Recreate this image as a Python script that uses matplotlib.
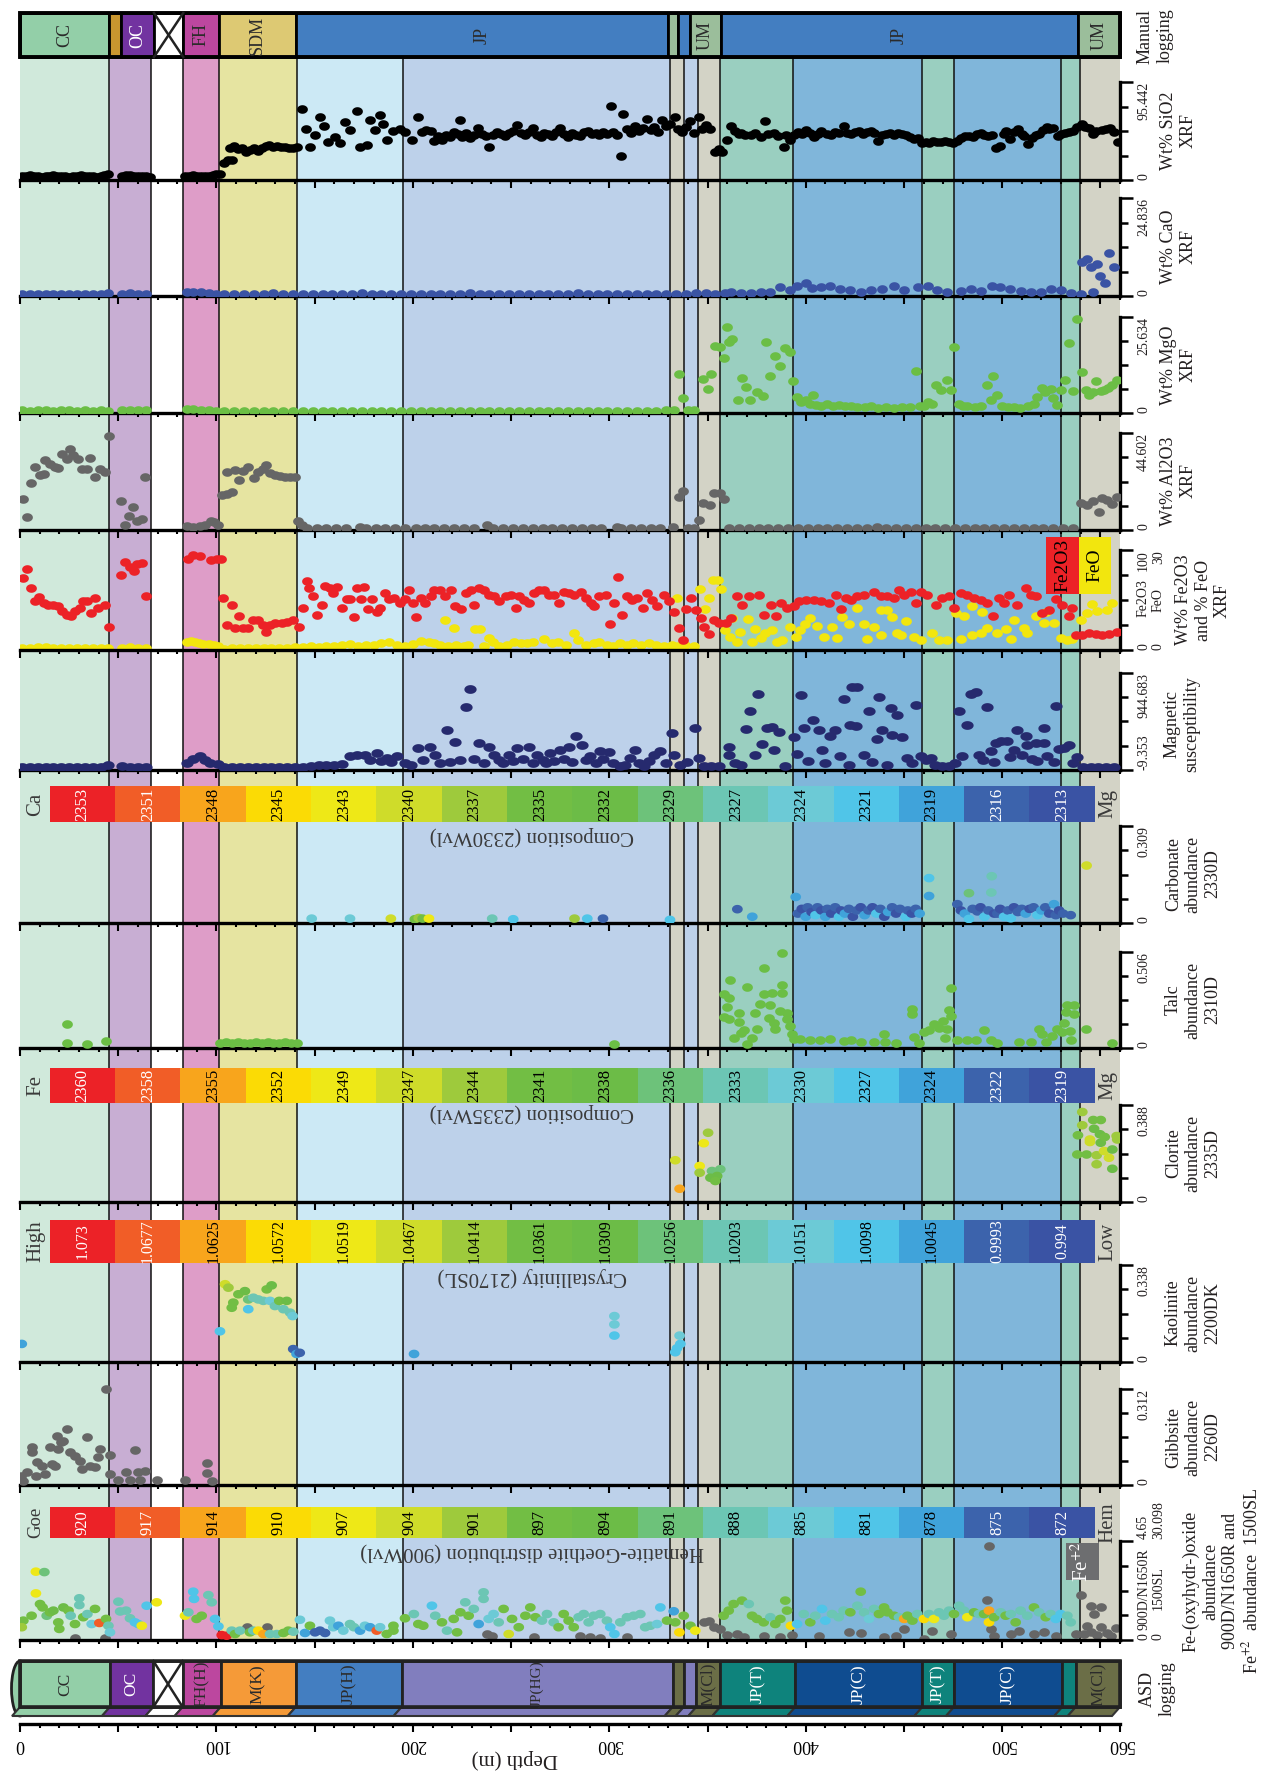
import numpy as np
import matplotlib
matplotlib.use("Agg")
import matplotlib.pyplot as plt
from matplotlib.patches import Rectangle, Polygon, Ellipse
from matplotlib.path import Path
from matplotlib.colors import ListedColormap, BoundaryNorm
from matplotlib.ticker import MultipleLocator, FixedLocator

plt.rcParams['font.family'] = ['Liberation Serif', 'DejaVu Serif']
plt.rcParams['mathtext.fontset'] = 'stix'

# ---------------------------------------------------------------- data
DMAX = 560

# lithological zones (depth top, depth base, fill)
ZONE_TOP = [0, 45.5, 66.5, 82.8, 101.1, 140.9, 194.8, 331.1, 338.2, 345, 356.5, 393.5, 459.4, 475.5, 529.8, 539.5]
ZONE_BASE = [45.5, 66.5, 82.8, 101.1, 140.9, 194.8, 331.1, 338.2, 345, 356.5, 393.5, 459.4, 475.5, 529.8, 539.5, 560]
ZONE_COLOR = ['#D0E9DB', '#C8AED3', '#FFFFFF', '#DE9DC8', '#E6E4A1', '#CCE9F5', '#BDD1EA', '#D3D3C6',
              '#BDD1EA', '#D3D3C6', '#9ACFC0', '#80B6DA', '#9ACFC0', '#80B6DA', '#9ACFC0', '#D3D3C6']

# manual logging column
MAN_TOP = [0, 45.5, 51.3, 68.2, 83.1, 101.3, 140.5, 329.7, 334.8, 340.9, 356.9, 538.6]
MAN_BASE = [45.5, 51.3, 68.2, 83.1, 101.3, 140.5, 329.7, 334.8, 340.9, 356.9, 538.6, 560]
MAN_UNIT = ['CC', 'Ochre', 'OC', 'None', 'FH', 'SDM', 'JP', 'UM', 'JP', 'UM', 'JP', 'UM']
MAN_LABEL = ['CC', '', 'OC', '', 'FH', 'SDM', 'JP', '', '', 'UM', 'JP', 'UM']

# ASD logging column
ASD_TOP = [0, 45.8, 67.9, 82.8, 102.2, 140.4, 194.3, 332.3, 337.9, 344.3, 356.5, 394.7, 459.4, 475.5, 530.6, 537.5]
ASD_BASE = [45.8, 67.9, 82.8, 102.2, 140.4, 194.3, 332.3, 337.9, 344.3, 356.5, 394.7, 459.4, 475.5, 530.6, 537.5, 560]
ASD_UNIT = ['CC', 'OC', 'None', 'FH(H)', 'M(K)', 'JP(H)', 'JP(HG)', 'M(Cl)', 'JP(HG)', 'M(Cl)',
            'JP(T)', 'JP(C)', 'JP(T)', 'JP(C)', 'JP(T)', 'M(Cl)']

UNIT_COLORS = {'CC': '#93CFA8', 'Ochre': '#C9962F', 'OC': '#7233A0', 'None': '#FFFFFF', 'FH': '#BC479F',
               'SDM': '#DDC973', 'JP': '#437EC1', 'UM': '#9BBE9B', 'FH(H)': '#BC479F', 'M(K)': '#F59A38',
               'JP(H)': '#437EC1', 'JP(HG)': '#817EBE', 'M(Cl)': '#6B6E47', 'JP(T)': '#0E837C',
               'JP(C)': '#0F4C90'}
LIGHT_TEXT_UNITS = {'OC', 'JP(T)', 'JP(C)'}

# spectral colour scales
SCALE_COLORS = ['#EC2227', '#F15D27', '#F8A51C', '#FBDB05', '#EEE817', '#CFDC2A', '#9ECA3C', '#72BE44',
                '#6CBC47', '#6DC27A', '#6CC6B4', '#6CCAD6', '#50C5E8', '#40A3DA', '#3C63AC', '#3A53A4']
CA_MG = ['2353', '2351', '2348', '2345', '2343', '2340', '2337', '2335', '2332', '2329', '2327', '2324',
         '2321', '2319', '2316', '2313']
FE_MG = ['2360', '2358', '2355', '2352', '2349', '2347', '2344', '2341', '2338', '2336', '2333', '2330',
         '2327', '2324', '2322', '2319']
CRYST = ['1.073', '1.0677', '1.0625', '1.0572', '1.0519', '1.0467', '1.0414', '1.0361', '1.0309', '1.0256',
         '1.0203', '1.0151', '1.0098', '1.0045', '0.9993', '0.994']
GOE_HEM = ['920', '917', '914', '910', '907', '904', '901', '897', '894', '891', '888', '885', '881', '878',
           '875', '872']

# XRF SiO2 (depth m, wt%)
SIO2 = [(1,4),(3,4),(5,5),(7,4),(9,4),(11,3),(13,4),(15,4),(17,5),(19,4),(21,4),(23,4),(25,3),(27,4),(29,4),
        (31,5),(33,4),(35,4),(37,4),(39,3),(41,4),(43,5),(45,6),
        (52,4),(54,5),(56,5),(58,4),(60,4),(62,4),(64,4),(66,3),
        (84,4),(86,4),(88,5),(90,4),(92,4),(94,4),(96,4),(98,5),(100,6),
        (102,6),(104,17),(106,19),(108,19),(107,31),(109,33),(111,30),(113,31),(115,27),(117,29),(119,31),
        (121,28),(123,31),(125,33),(127,34),(129,32),(131,33),(133,32),(135,32),(137,31),(139,31),(141,32),
        (143.4,69),(145.6,50),(147.6,32),(150,44),(152.7,61),(154.8,53),(157,37),(160.4,42),(163,36),
        (165.5,56),(168,49),(171.4,67),(173,32),(176.5,34),(178.2,58),(180.7,49),(183.3,63),(185,55),
        (186.7,39),(190,48),(193.5,50),(196,47),(199.4,39),(202.8,61),(204.5,47),(206.5,49),
        (209,48),(211,38),(213,43),(215,39),(217,44),(219,42),(221,47),(223,45),(224,58),(225,42),(227,46),
        (229,41),(231,44),(233,51),(235,45),(237,43),(239,32),(241,44),(243,47),(245,45),(247,43),(249,46),
        (251,48),(253,54),(255,46),(257,44),(259,47),(261,51),(263,44),(265,42),(267,46),(269,45),(271,43),
        (273,47),(275,51),(277,45),(279,42),(281,46),(283,44),(285,43),(287,47),(289,48),(291,45),(293,46),
        (295,44),(297,47),(299,45),(301,72),(302,47),(304,44),(306,23),(307,64),(309,50),(311,46),(313,53),
        (315,48),(317,51),(319,59),(321,49),(323,52),(325,47),(327,58),(329,53),
        (331,55),(333.6,61),(335,50),(337,47),(339,52),(341,57),(343,46),(345.5,61),(347,50),(349,54),
        (351.5,50),(354,27),(356,30),(357.6,27),
        (360,39),(362,53),(364,48),(366,45),(367,46),(369,44),(372,44),(374,46),(377,42),(379.5,57),(381,45),
        (384,46),(386,43),(388.8,32),(390,44),(392,39),
        (394,44),(396,47),(398,45),(400,49),(402,46),(404,42),(406,45),(408,48),(411,45),(413,44),(415,47),
        (417,46),(419.5,53),(421,46),(423,45),(425,47),(427,48),(429,45),(431,47),(433,48),(435,46),(437,38),
        (439,44),(441,45),(443,46),(445,44),(447,46),(449,45),(451,44),(453,42),(455,40),(457,41),(459,36),
        (461,37),(463,36),(465,38),(467,37),(469,37),(471,38),(473,37),(475,36),
        (477,38),(479,41),(481,43),(483,43),(485,42),(487,45),(489,46),(491,44),(493,43),(495,44),(497,31),
        (499,33),(501,45),(502,48),(504,40),(506,47),(508,50),(510,45),(511,43),(513,35),(515,41),(517,44),
        (519,45),(521,49),(522.6,52),(524,50),(526,51),(528.6,43),(530,45),
        (532,46),(534,47),(536,48),(538,52),(540.5,55),(542,52),(544,51),(546.5,45),(548,48),(551,49),
        (553,50),(555,51),(557,47),(559,37)]

# XRF CaO (depth m, wt%)
CAO = [(1,0.6),(5,0.5),(9,0.6),(13,0.5),(17,0.6),(21,0.5),(25,0.6),(29,0.5),(33,0.6),(37,0.5),(41,0.6),
       (45,0.8),(52,0.6),(56,0.7),(60,0.6),(64,0.6),(85,1.0),(88,1.1),(92,0.9),(96,0.7),(100,0.6),
       (104,0.5),(109,0.6),(114,0.4),(119,0.6),(124,0.5),(129,0.7),(134,0.5),(139,0.6),(144,0.5),(149,0.4),
       (154,0.6),(159,0.5),(164,0.6),(169,0.5),(174,0.7),(179,0.5),(184,0.6),(189,0.5),(194,0.4),(199,0.6),
       (204,0.5),(209,0.6),(214,0.5),(219,0.6),(224,0.5),(229,0.7),(234,0.5),(239,0.6),(244,0.5),(249,0.4),
       (254,0.6),(259,0.5),(264,0.6),(269,0.5),(274,0.6),(279,0.5),(284,0.7),(289,0.5),(294,0.6),(299,0.5),
       (304,0.4),(309,0.6),(314,0.5),(319,0.6),(324,0.5),(329,0.6),(334,0.5),(339,0.6),(344,0.7),(349,0.8),
       (354,0.6),(359,0.7),
       (362,0.9),(367,0.7),(372,0.8),(377,0.9),(382,1.1),(387,2.2),(392,1.6),(395.6,2.6),(399.9,3.4),
       (403,2.0),(407.7,2.4),(412.6,2.6),(417.6,1.7),(422.7,1.6),(428,1.1),(433,1.5),(439,1.9),(445,2.5),
       (450,1.5),(457,2.3),(462,2.5),(467,1.5),(472,1.1),(479,1.3),(484,1.9),(489,1.3),(495,2.5),(499,2.2),
       (504,1.7),(509.5,1.3),(514.5,1.1),(519.6,1.1),(524.7,1.9),(529.8,1.5),(535,0.8),(540,0.6),
       (540.6,8.7),(543,9.5),(545,7.4),(546,1.1),(548.4,8.1),(550,5.1),(552.6,3.2),(554.6,11),(557,7.4)]

# XRF MgO (depth m, wt%)
MGO = [(1,0.7),(5,0.6),(9,0.8),(13,0.7),(17,0.6),(21,0.7),(25,0.8),(29,0.6),(33,0.7),(37,0.6),(41,0.7),
       (45,0.6),(52,0.8),(56,0.9),(60,0.8),(64,0.7),(85,1.0),(88,1.1),(92,0.9),(96,0.7),(100,0.6),
       (104,0.6),(109,0.5),(114,0.6),(119,0.5),(124,0.6),(129,0.5),(134,0.6),(139,0.5),(144,0.6),(149,0.5),
       (154,0.6),(159,0.5),(164,0.6),(169,0.5),(174,0.6),(179,0.5),(184,0.6),(189,0.5),(194,0.6),(199,0.5),
       (204,0.6),(209,0.5),(214,0.6),(219,0.5),(224,0.6),(229,0.5),(234,0.6),(239,0.5),(244,0.6),(249,0.5),
       (254,0.6),(259,0.5),(264,0.6),(269,0.5),(274,0.6),(279,0.5),(284,0.6),(289,0.5),(294,0.6),(299,0.5),
       (304,0.6),(309,0.5),(314,0.6),(319,0.5),(324,0.6),(329,0.7),
       (333,0.8),(335.3,10.4),(337.5,3.9),(340,0.8),(343,0.7),(347.7,9.0),(350.1,6.4),(351.8,10.4),
       (354,17.9),(356.6,17.7),(358.3,14.6),(359.9,23),(360.8,19.0),(362.5,19.7),(365.4,3.5),(367.6,9.4),
       (369.8,6.9),(371.5,3.5),(375.2,5.7),(378.3,4.6),(380,19.0),(382,9.9),(384.6,15.2),(387.1,12.5),
       (389.7,17.3),(392.2,16.4),(393.6,8.6),(395.6,4.4),(397.5,3.0),(399.9,3.5),(402,2.4),(403.5,4.8),
       (405,2.2),(408,2.0),(411,2.4),(414,1.8),(417,2.2),(420,1.9),(423,2.0),(426,1.6),(430,1.5),(433,1.8),
       (437,1.4),(441,1.6),(445,1.3),(449,1.5),(453,1.6),(456.1,11.3),(458,2.0),(460.3,1.8),(462,3.0),
       (464.5,2.5),(466.2,7.5),(469,6.1),(471.8,8.8),(473.8,6.1),(475.5,17.7),(478,2.5),(480,2.0),
       (482,1.8),(486,1.6),(489,1.8),(492.5,7.5),(494.3,3.4),(495.5,9.9),(497.5,4.8),(500,1.8),(503,1.5),
       (506,1.6),(509,1.4),(513,1.8),(516,2.5),(517.6,4.2),(520.5,6.6),(522,5.5),(524.7,6.3),(526,4.0),
       (527.8,2.1),(529.8,6.1),(531.9,8.8),(534.1,18.6),(536.3,5.8),(538,25.1),(540.4,10.9),(542.6,6.1),
       (544,4.9),(546.5,5.6),(547.7,8.5),(550.3,5.8),(552,6.2),(553.7,6.8),(555.7,7.5),(558.3,8.9)]

# XRF Al2O3 (depth m, wt%)
AL2O3 = [(1.7,14.1),(3.7,5.9),(5.4,21.4),(7.6,29),(10.2,25.2),(12.2,25.9),(12.7,32),(15.3,30.5),(17.8,29),
         (19.5,28.7),(21.2,35),(23.8,32.8),(25.5,37.3),(27.1,34.3),(29.7,32.8),(31.4,28.2),(34,28.2),
         (35.6,33.2),(38.2,24.4),(40.7,28.2),(43.3,26.7),(45.5,43.2),
         (51.4,13.5),(53.5,2.4),(55.7,6.5),(57.7,10.8),(59.4,4),(62,5),(63.6,24.4),
         (84.9,2),(88,1.5),(91.6,1.7),(94,2.5),(97,4),(99,3.5),(101,2.4),
         (102.7,16),(105.2,16.5),(107.8,17.6),(105.2,26.7),(109.5,27.4),(111.7,22.9),(113.4,27.2),
         (116.2,29),(119.1,23.7),(121.3,26.7),(123.5,28),(125.2,29.7),(127.3,26.2),(129.8,25.2),
         (132.4,24.7),(134.9,24.4),(137.5,24.4),(140,24.4),(141.7,4),(143.4,2.4),
         (146,0.8),(151,0.7),(156,0.8),(161,0.7),(166,0.8),(172.9,1.5),(176,0.8),(181,0.7),(186,0.8),
         (191,0.7),(196,0.8),(201.8,1.0),(206,0.8),(211,0.7),(216,0.8),(221,0.7),(226,0.8),(231,0.7),
         (237.7,2.4),(241,0.8),(246,0.7),(251,0.8),(256,0.7),(261,0.8),(266,0.7),(271,0.8),(276,0.7),
         (281,0.8),(286,0.7),(291,0.8),(296,0.7),(303.8,1.5),(306,0.8),(311,0.7),(316,0.8),(321,0.7),
         (326,0.8),(332.6,1.2),
         (335.3,15),(337.5,17.9),(340,1),(343,1),(345.5,4.4),(347.7,12.6),(351.5,11.5),(353.1,16.8),
         (356.2,16.8),(358.3,14.1),
         (361,0.8),(366,0.7),(371,0.8),(376,0.7),(381,0.8),(386,0.7),(391,0.8),(396,0.7),(401,0.8),
         (406,0.7),(411,0.8),(416,0.7),(421,0.8),(426,0.7),(431,0.8),(436.4,1.5),(441,0.8),(446,0.7),
         (451,0.8),(456,0.7),(461,0.8),(466,0.7),(471,0.8),(476,0.7),(481,0.8),(486,0.7),(491,0.8),
         (496,0.7),(501,0.8),(506,0.7),(511,0.8),(516,0.7),(521,0.8),(526,0.7),(531,0.8),(536,0.7),
         (540,12.6),(543.4,11.5),(546,13.5),(549.4,8.5),(551,14.6),(553.6,13.8),(556,12),(558.3,15)]

# XRF Fe2O3 (depth m, wt%)
FE2O3 = [(1.7,72),(3.7,81),(5.6,62),(7.6,49),(9.8,53),(12.2,47),(14.4,45),(16.9,45),(19.5,44),(21.2,39),
         (23.8,35),(25.8,34),(28,39),(30.5,42),(32.2,49),(34.3,49),(36,37),(38.2,52),(39.9,42),(43.3,45),
         (45.3,23),(51.4,75),(53.5,88),(56,83),(58,79),(59.7,86),(62,87),(64,54),
         (85.7,91),(88.2,95),(91.6,94),(97.1,90),(100.1,91),(102.1,91),
         (103.5,52),(107.8,45),(111.7,34),(105.2,25),(109.5,22),(113.7,22),(116.2,22),(118.8,30),(121.3,30),
         (123.9,25),(125.2,18),(127.3,25),(129.8,27),(133.2,27),(135.7,28),(139.1,30),(142,23),
         (144.2,42),(146,69),(147.3,62),(149.3,54),(151.4,35),(153.6,45),(155.3,64),(157.8,62),(159.5,57),
         (161.6,63),(163.8,42),(166.3,51),(168,51),(170,33),(171.4,62),(173.4,51),(175.3,63),(177.3,41),
         (179,51),(181.6,38),(183.3,42),(185.8,57),(188,51),(190.4,52),(193.5,47),(196,51),(198.2,60),
         (200.3,47),(201.6,33),(204,52),(206,47),
         (209,54),(210.7,60),(214,60),(216.6,54),(219.2,60),(221.7,44),(224.3,41),(226.8,57),(229.4,60),
         (231.1,45),(233.6,62),(236.2,60),(238.7,55),(241.3,54),(243.8,49),(247.2,54),(249.8,55),
         (252.3,42),(254,54),(256.6,50),(259.1,47),(261.7,57),(264.2,60),(266.7,60),(269.3,55),(271.8,55),
         (274.4,47),(276.9,58),(279.5,57),(282,55),(285.4,58),(288,52),(290.5,47),(292.2,44),(294.8,54),
         (298.2,55),(300.4,26),(302.4,47),(304.3,73),(306.3,35),(309.2,54),(311.7,50),(314.3,52),
         (317.3,42),(319.4,57),(321.9,50),(324.5,44),(327.9,55),(330.4,49),(333,38),(335.5,22),(337.6,10),
         (338.9,41),(341.5,52),(344,40),(346.6,32),(348.3,23),(350.8,16),(353.4,30),(355.9,27),(359.3,27),
         (361.8,32),(365.2,54),(367.8,45),(371.2,54),(376.3,55),(378.8,35),(382.2,45),(384.8,34),
         (387.3,47),(390.7,42),(394.1,44),(396.7,49),(400.1,50),(404.3,50),(407.7,49),(412,47),(415.4,55),
         (417.9,41),(420.5,52),(423,50),
         (426.3,54),(429.7,55),(434.8,58),(438.2,54),(441.6,54),(445,52),(447.5,60),(450.1,55),(453.5,58),
         (456,47),(458.5,58),(461.9,55),(466.2,45),(469.6,52),(473,54),(475.5,42),(478.9,57),(482.3,55),
         (485.7,52),(489.1,50),(492.5,47),(495.5,34),(498.4,52),(501,47),(503.5,55),(507.8,45),(512,62),
         (514.5,55),(517.1,54),(520.5,37),(523.9,40),(527.3,51),(530.7,45),(534.1,34),(535.8,42),
         (537.4,15),(540.8,15),(544.2,17),(547.6,16),(551,15),(554.4,16),(558.7,18)]

# XRF FeO (depth m, wt%)
FEO = [(1,0.6),(5,0.7),(9,1.0),(13,0.8),(17,0.6),(21,0.5),(25,0.6),(29,0.5),(33,0.6),(37,0.5),(41,0.6),
       (45,0.5),(52,0.7),(56,0.8),(60,0.7),(64,0.6),
       (85,2.3),(87,2.8),(89,2.5),(91,2.2),(93,1.9),(96,1.8),(99,1.6),(101,1.2),
       (104,0.4),(108,0.5),(112,0.6),(116,0.5),(120,0.6),(124,0.5),(128,0.7),(132,0.6),(136,0.5),(140,0.8),
       (144,0.9),(148,1.1),(152,1.0),(156,1.2),(160,1.1),(164,1.4),(168,1.8),(172,1.3),(176,1.5),(180,1.4),
       (184,2.1),(188,2.3),(192,1.6),(196,1.2),(200,1.9),(204,2.8),
       (208,2.4),(211,2.0),(214,1.6),(216.5,9.1),(218,1.3),(220.8,6.6),(222,1.6),(226,1.3),(228,1.6),
       (231.8,6.3),(234.4,6.3),(236,1.3),(238.6,3.6),(241,2.4),(244,1.3),(248,1.6),(251.3,2.4),(255,2.0),
       (258,2.0),(261,2.4),(266.6,3.3),(271,2.0),(274,2.4),(278,1.6),(281.9,5.1),(284,3.0),(288,1.6),
       (292,2.0),(294.6,2.4),(299,1.6),(302,1.3),(305.5,2.0),(309,1.6),(312,2.0),(316,1.6),(320,2.0),
       (324,1.6),(328,1.3),(332,1.6),(334.5,15.6),(335,1.3),(338.7,1.5),(343,1.3),(346.4,18.3),(348.9,12.3),
       (350.6,15.5),(352.8,20.9),(355.2,20.9),(357,18.2),
       (359.1,5.9),(361.6,3.9),(362.5,9.6),(365,2.4),(366.7,5.5),(370.4,9.2),(372.7,2.4),(374.3,6.3),
       (377,3.6),(379.4,5.1),(382.8,5.9),(385.4,2.4),(388,3.0),(392.2,6.8),(394.8,3.9),(397.3,5.9),
       (399.8,7.8),(402.4,9.6),(405.8,7.3),(409.1,3.9),(413.4,6.8),(416,3.5),(418.5,9.8),(421.9,7.8),
       (426.3,12.6),(429.7,7.8),(431.4,3.4),(434.8,6.8),(438.2,12),(438.2,4.5),(441.6,12),(444.1,9.8),
       (446.7,5.1),(448.4,4.5),(450.9,8.6),(455.1,3.9),(458.5,2.9),(464.5,5.1),(467.9,2.9),(472.1,2.9),
       (476.4,11.1),(478.9,3.4),(480.6,10.3),(484.8,13.2),(484.8,4.5),(489.1,5.1),(489.9,11.3),
       (492.5,6.6),(497.6,5.1),(501.8,6.3),(504.4,3.4),(506.1,9.1),(511.1,6.6),(512.8,5.1),(517.1,10.3),
       (521.3,8.2),(522.2,11.3),(526.4,8.2),(529.8,3.6),(533.2,2.9),(535.7,3.4),
       (540,9.1),(543.4,11.1),(545.9,13.8),(548.5,11.6),(553.6,12),(556.1,14)]

# magnetic susceptibility (depth m, SI x 10^-5)
MAGSUS = [(1,25),(5,25),(9,25),(13,25),(17,25),(21,25),(25,25),(29,25),(33,25),(37,25),(41,25),(45,40),
          (52,30),(56,25),(60,25),(64,25),
          (84.9,60),(88.2,99),(91.6,125),(94,90),(96.9,60),(101,53),
          (104,25),(108,25),(112,25),(116,25),(120,25),(124,25),(128,25),(132,25),(136,25),(140,25),
          (144,25),(148,30),(152,35),(156,40),(160,40),(164,45),
          (168,125),(171.4,141),(175.7,141),(178,90),(181.6,158),(184,80),(186.7,108),(189,70),(191.8,125),
          (196,60),(199,40),(202.8,207),(205.4,92),
          (208.9,217),(211.4,141),(214,60),(217.4,381),(219,70),(221.6,263),(224,90),(227.2,610),(229.3,787),
          (231,100),(233.5,256),(236,60),(238.6,217),(241.1,141),(244,90),(246,60),(248.8,141),(251,80),
          (253,207),(256,100),(259,217),(261,60),(263.2,141),(266,90),(268,60),(270,158),(272,80),
          (275.1,190),(277,100),(279.3,217),(281,70),(283.2,322),(286.1,240),(288,90),(290.4,125),(293,60),
          (295.4,174),(297,100),(299.7,164),(302,60),(305.6,27),(308,40),(310.7,108),(313.3,190),(315,60),
          (317.5,33),(320,80),(322.6,141),(326,174),(329,60),(331.9,355),(333.1,141),(336,40),(339.6,66),
          (343.8,404),(345.5,108),(348,30),(352,30),(356,30),
          (360.8,217),(360.8,135),(364,60),(367,40),(369.8,394),(371.8,568),(374.3,135),(375.7,741),
          (377.8,250),(380.3,404),(382.8,414),(383.7,184),(386.2,361),(389.6,33),(393.9,315),(395.6,151),
          (397.8,725),(399,404),(401,80),(403.7,485),(406.6,387),(408.3,184),(410,60),(412.5,322),
          (415.1,381),(417.6,125),(419.3,689),(421.9,43),(422.7,437),(423.6,807),
          (425.4,427),(426.3,807),(429.7,135),(432.2,568),(433.9,66),(436.1,296),(437.3,708),(439,381),
          (441.6,43),(443.3,601),(444.1,338),(446.7,535),(449.2,315),(451.7,108),(454,60),(456,633),
          (458.5,125),(461,90),(463.6,108),(466,40),(469.6,33),(473,30),(476,60),(478.1,568),(479.7,125),
          (482.3,437),(484,741),(486.5,753),(488.2,141),(490,90),(492.5,610),(494.2,174),(495.9,66),
          (496.7,256),(499.3,273),(502.7,273),(504,120),(506.1,190),(507.8,381),(510,140),(512,322),
          (512.8,240),(515,100),(517.1,256),(517.9,82),(521.3,404),(521.3,256),(523,125),(526.4,66),
          (527.3,617),(529,197),(531.5,207),(534.1,240),(536,60),(538,118),
          (541,25),(545,25),(549,25),(553,25),(557,25)]

# carbonate abundance 2330D (depth m, abundance, 2330 feature wavelength nm)
CARB = [(148.5,0.014,2324),(168,0.014,2324),(188.8,0.014,2340),(201,0.012,2335),(203,0.016,2337),
        (205,0.014,2335),(208.2,0.014,2343),(240.4,0.014,2327),(251.1,0.012,2321),(282.3,0.014,2337),
        (288.8,0.014,2321),(296.8,0.014,2316),(330.9,0.010,2321),(365.2,0.044,2316),(372.8,0.020,2319),
        (394.9,0.083,2319),
        (396,0.03,2316),(398,0.045,2313),(400,0.02,2319),(401,0.05,2316),(403,0.035,2313),(405,0.025,2321),
        (406,0.05,2316),(408,0.04,2313),(410,0.02,2319),(411,0.045,2316),(413,0.03,2313),(415,0.05,2316),
        (417,0.02,2321),(418,0.04,2313),(420,0.03,2319),(422,0.045,2316),(424,0.02,2313),(426,0.04,2316),
        (428,0.05,2313),(430,0.025,2319),(432,0.04,2316),(434,0.05,2313),(436,0.03,2321),(438,0.045,2316),
        (440,0.02,2313),(442,0.035,2319),(444,0.05,2316),(446,0.03,2313),(448,0.045,2316),
        (450.9,0.02,2321),(452,0.04,2316),(454,0.03,2313),(456,0.045,2316),(458,0.03,2319),
        (462.8,0.086,2319),(462.8,0.143,2321),
        (477.2,0.06,2316),(479,0.04,2313),(481,0.03,2319),(483.1,0.095,2329),(483.1,0.013,2321),
        (485,0.045,2316),(487.4,0.037,2316),(489,0.05,2313),(491,0.02,2321),(493,0.04,2316),
        (494.5,0.097,2327),(494.7,0.149,2327),(496,0.03,2313),(497.6,0.03,2316),(499,0.045,2313),
        (501,0.02,2321),(503,0.04,2316),(504.4,0.015,2321),(506,0.05,2313),(508,0.035,2316),
        (510,0.045,2316),(512,0.03,2319),(514,0.045,2313),(516,0.05,2316),(518,0.025,2321),(520,0.04,2319),
        (522,0.05,2316),(524,0.03,2313),(526.4,0.06,2319),(527.3,0.025,2316),(529,0.04,2313),
        (531,0.03,2316),(534.9,0.025,2316),(543,0.183,2340)]

# talc abundance 2310D (depth m, abundance)
TALC = [(23.8,0.125),(23.8,0.028),(34.3,0.02),(43.8,0.037),
        (102,0.028),(105,0.03),(108,0.026),(111,0.03),(114,0.028),(117,0.026),(120,0.03),(123,0.028),
        (126,0.03),(129,0.026),(132,0.028),(135,0.03),(138,0.026),(141,0.028),(302.5,0.02),
        (358.2,0.283),(358.2,0.165),(360,0.218),(360.8,0.265),(360.8,0.151),(361.6,0.358),(363.3,0.054),
        (365.9,0.186),(365.9,0.137),(366.8,0.08),(368.4,0.095),(370,0.02),(370.1,0.323),(372.7,0.054),
        (374.3,0.186),(375.2,0.102),(376.9,0.23),(378.6,0.42),(378.6,0.283),(381.1,0.16),(382,0.225),
        (382.8,0.291),(383.7,0.133),(384.6,0.1),(387.1,0.195),(387.9,0.502),(387.9,0.33),(387.9,0.288),
        (390.5,0.186),(390.5,0.151),(392.2,0.118),(393.1,0.072),(393.9,0.046),(397.3,0.046),(402.4,0.042),
        (407.5,0.042),(412.6,0.046),(419.4,0.037),(422.8,0.04),
        (428,0.03),(434.8,0.033),(439.9,0.072),(440.5,0.03),(445.8,0.026),(454.3,0.204),(454.3,0.178),
        (455.1,0.06),(457.7,0.026),(460.2,0.083),(462.8,0.093),(465.3,0.125),(467.9,0.107),(470.1,0.142),
        (470.8,0.055),(472.1,0.1),(473,0.2),(473.8,0.318),(474.2,0.17),(477.2,0.04),(482.3,0.044),
        (486.5,0.04),(490.8,0.093),(494.2,0.04),(497.6,0.026),(508.6,0.03),(514.5,0.03),(518.8,0.1),
        (520.5,0.074),(522.2,0.03),(525.6,0.065),(528.1,0.1),(530.7,0.083),(531.5,0.134),(532.4,0.19),
        (533.2,0.226),(534.6,0.088),(534.9,0.04),(536.6,0.226),(536.6,0.18),(542.9,0.1),(556.1,0.026)]

# clorite abundance 2335D (depth m, abundance, 2335 feature wavelength nm)
CLOR = [(333.6,0.167,2347),(335.8,0.053,2355),(350.3,0.277,2344),(348.1,0.235,2349),(346,0.144,2349),
        (346,0.117,2344),(352.3,0.124,2336),(356.5,0.131,2336),(351.5,0.097,2338),(354.9,0.104,2338),
        (354,0.084,2341),
        (540.8,0.36,2344),(540.8,0.307,2344),(538.6,0.267,2341),(538.3,0.19,2341),(543,0.19,2341),
        (546.4,0.328,2341),(550.2,0.328,2341),(546.8,0.293,2338),(549.8,0.271,2338),(544.7,0.25,2347),
        (544.7,0.24,2347),(550.2,0.237,2338),(552.2,0.26,2341),(558.3,0.264,2344),(558.6,0.25,2344),
        (548.1,0.187,2344),(551.9,0.204,2347),(554.4,0.177,2347),(556.1,0.21,2338),(548.1,0.151,2344),
        (556.1,0.133,2338)]

# kaolinite abundance 2200DK (depth m, abundance, crystallinity index)
KAOL = [(0.9,0.063,1.0045),(101.8,0.107,1.0098),
        (104.4,0.271,1.0467),(106.1,0.259,1.0414),(107.8,0.189,1.0361),(108.6,0.207,1.0361),
        (111.2,0.236,1.0361),(114.5,0.247,1.0309),(116.2,0.218,1.0256),(116.2,0.184,1.0098),
        (118.8,0.224,1.0203),(121.3,0.218,1.0203),(123.9,0.213,1.0203),(125.6,0.253,1.0361),
        (128.1,0.267,1.0309),(127.3,0.213,1.0151),(129.8,0.195,1.0203),(132,0.213,1.0361),
        (134.1,0.184,1.0203),(135.8,0.213,1.0309),(137.5,0.172,1.0203),(138.8,0.16,1.0151),
        (139.1,0.045,0.9993),(140.8,0.028,1.0045),(142.4,0.032,0.9993),(200.6,0.028,1.0045),
        (302.6,0.16,1.0151),(302.6,0.131,1.0151),(302.6,0.092,1.0098),(335.8,0.092,1.0151),
        (336.2,0.063,1.0098),(333.6,0.034,1.0098),(334.5,0.048,1.0098)]

# gibbsite abundance 2260D (depth m, abundance)
GIBB = [(43.8,0.312),(0.3,0.030),(1.7,0.014),(3.4,0.041),(5.9,0.123),(5.9,0.108),(8.5,0.074),(8.1,0.030),
        (11,0.063),(12.7,0.036),(15.3,0.123),(16.1,0.068),(17.8,0.063),(18.7,0.160),(20.7,0.139),
        (23.8,0.182),(22.1,0.144),(19.5,0.117),(25.5,0.106),(28,0.095),(30.5,0.079),(31.4,0.052),
        (34.3,0.155),(35.6,0.063),(38.2,0.058),(39.9,0.090),(40.7,0.117),(45.8,0.098),(45.8,0.036),
        (50.1,0.017),(54,0.041),(56,0.017),(58.5,0.115),(60.2,0.041),(63.6,0.047),(61.1,0.017),
        (69.6,0.017),(84,0.017),(95.4,0.071),(95.4,0.039),(97.6,0.014)]

# Fe-(oxyhydr-)oxide abundance 900D/N1650R (depth m, abundance, 900 feature wavelength nm)
FEOX = [(8.1,3.21,907),(12.4,3.19,891),(8.1,2.19,907),(10.2,1.69,897),(11.5,1.53,897),(5.9,1.14,897),
        (1.7,0.91,897),(0.9,0.60,901),(13.6,1.14,891),(15.3,1.30,897),(17,1.38,894),(19.5,0.83,897),
        (20,0.52,897),(22.1,1.53,894),(24.7,1.38,897),(25.8,1.14,888),(28,0.75,897),(30.2,1.96,888),
        (30.2,1.64,888),(32.2,1.07,897),(34.3,1.22,888),(36.5,0.75,885),(38.2,1.46,897),(40.4,0.80,917),
        (43.8,0.99,897),(45,0.67,888),(45.8,0.36,885),(50.1,1.80,888),(51,1.34,888),(54,1.38,888),
        (56,1.02,888),(58.5,0.83,881),(60.2,0.75,881),(64.5,1.61,881),(62,0.67,907),(69.6,1.77,907),
        (84,1.14,907),(85.7,1.30,888),(88.2,2.27,881),(88.6,1.93,881),(89.9,0.99,897),(92.5,1.14,897),
        (95.9,2.11,888),(97.6,1.77,888),(99.3,0.99,881),(101,0.64,881),
        (102.7,0.23,920),(105.2,0.20,920),(107.8,0.44,888),(109.5,0.28,897),(112,0.44,888),
        (117.1,0.36,897),(118.8,0.44,888),(121.3,0.44,910),(123.9,0.28,914),(127.3,0.28,888),
        (130.7,0.28,888),(134.1,0.33,897),(136.6,0.44,897),(139.2,0.39,888),
        (142.5,0.95,885),(145.1,0.33,878),(147.6,0.67,897),(150.2,0.36,875),(152.7,0.44,875),
        (155.3,0.33,875),(157.8,0.91,885),(159.5,0.60,885),(162.1,0.67,878),(164.6,0.44,885),
        (168,0.75,888),(170,0.60,888),(173.1,0.44,878),(175.6,0.67,885),(178.2,0.60,878),(181.6,0.44,917),
        (183.3,0.60,885),(186.7,0.28,897),(190.1,0.67,897),(190.1,0.44,897),(196,1.02,897),(200.5,1.22,888),
        (202.8,0.75,897),(205.3,0.67,897),
        (209.7,1.61,881),(211.4,1.14,888),(214.8,0.83,897),(217.4,0.44,888),(220.8,0.99,897),
        (222.5,0.36,897),(224.2,1.30,897),(226.7,1.77,888),(228.4,1.14,897),(231,1.46,888),(233.5,0.75,878),
        (236,2.24,888),(236,1.93,888),(238.6,0.99,885),(241.1,1.22,885),(243.7,0.83,888),(246.2,1.46,897),
        (248.8,0.28,904),(250.5,0.99,897),(253.9,0.60,897),(257.3,1.14,897),(259.8,1.53,897),
        (262.4,1.07,897),(265.7,0.91,888),(268.3,1.22,888),(271.7,0.83,888),(274.2,0.60,897),
        (276.8,1.22,897),(279.3,0.91,897),(281.9,0.60,897),(284.4,1.07,888),(287,1.22,888),(289.5,0.83,888),
        (292.1,1.14,888),(295.4,1.22,888),(298.8,0.91,888),(300.5,0.60,881),(302.6,0.28,881),
        (305.6,0.83,888),(309,1.07,888),(312.4,1.14,888),(315.8,1.22,888),(318.3,0.60,888),(320.9,0.67,888),
        (324.3,0.75,885),(326,1.53,881),(329.4,0.91,897),(332.8,1.35,878),(333.6,0.83,897),(335.7,0.36,910),
        (337.9,1.14,897),(341.3,0.67,897),(343.8,0.44,907),
        (358.2,1.14,897),(360.8,1.38,897),(363.3,1.69,897),(367.6,1.85,897),(371,1.69,888),(372.7,1.14,897),
        (375.2,0.99,897),(378.6,0.83,897),(382,1.07,888),(384.5,0.75,897),(387.1,0.99,897),(389.6,1.85,897),
        (390.5,1.38,897),(392.5,0.67,910),(395.6,0.75,881),(399,1.22,888),(402.3,0.83,897),(404.9,1.14,888),
        (408.3,1.46,881),(410,0.91,881),(413.4,1.22,888),(416.8,1.07,888),(419.3,1.38,888),(422.7,1.30,897),
        (428,2.27,897),(426.3,1.61,888),(429.7,1.30,888),(432.2,0.99,885),(434.8,1.46,888),(437.3,1.22,897),
        (439.9,1.53,897),(441.6,1.30,897),(445,1.14,897),(447.5,1.07,888),(450.1,0.99,914),(451.8,1.14,897),
        (454.3,0.91,897),(456.8,1.22,888),(460.2,0.99,910),(462.8,1.22,888),(465.3,0.99,907),
        (467.9,1.30,888),(470.4,1.14,888),(473,1.38,888),(475.5,1.22,897),(478.1,1.61,888),(480.6,1.38,888),
        (482.3,1.07,907),(485.7,1.30,897),(488.2,1.22,888),(490.8,1.22,897),(493.3,1.38,914),
        (493.3,0.83,910),(495.9,1.07,897),(499.3,1.30,888),(501.8,1.14,897),(504.4,1.22,888),
        (506.9,0.83,897),(509.4,1.38,888),(512.8,1.14,888),(516.2,1.53,897),(518.8,1.30,888),
        (522.2,1.07,897),(524.7,1.22,888),(527.3,0.99,881),(529.8,1.22,881),(533.2,1.14,888),
        (534.9,0.83,888)]

# Fe2+ abundance 1500SL (depth m, abundance)
FE2 = [(28,0.5),(43.3,0.5),(115.4,3.9),(125.6,4.0),(237.7,1.8),(240.3,1.3),(261.5,0.8),(285.3,1.3),
       (290.4,0.8),(295.4,0.5),(309,0.8),(348,5.4),(350.6,5.9),(353.1,3.9),(356.5,3.3),(359.9,1.5),
       (365,1.8),(368.4,0.8),(378.6,1.3),(387.1,0.8),(393,1.5),(406.6,1.3),(421.9,2.3),(428,2.0),
       (439.9,0.8),(445.8,1.3),(450.1,3.3),(460.2,0.3),(464.5,2.8),(473.8,1.8),(492.5,12.3),(493.3,28.7),
       (494.2,3.3),(495.9,1.3),(504.4,1.8),(508.6,2.8),(516.2,1.8),(521.3,2.3),(527.3,1.3),(537.4,1.8),
       (540,13.8),(545.1,10.2),(550.2,10.0),(546.8,7.9),(543.4,4.4),(545.1,2.4),(550.2,4.0),(553.2,2.2),
       (557.8,3.6),(555.3,1.3),(541.7,1.8),(548.5,1.5)]

# ---------------------------------------------------------------- layout (pixels)
W, H = 1281, 1771
X0, X1 = 20, 1120          # depth 0 and 560 m
BAND_TOP, BAND_BOT = 57, 1640
M_PER_PX = DMAX / (X1 - X0)
TXT = '#231F20'

fig = plt.figure(figsize=(W / 100, H / 100), dpi=100)


def rect(x0, y0, x1, y1):
    return [x0 / W, 1 - y1 / H, (x1 - x0) / W, (y1 - y0) / H]


def ftext(x, y, s, **kw):
    kw.setdefault('fontsize', 13)
    kw.setdefault('color', TXT)
    return fig.text(x / W, 1 - y / H, s, **kw)


_t = np.linspace(0, 2 * np.pi, 41)
DOT = Path(np.column_stack([1.25 * np.cos(_t), np.sin(_t)]))
DOT_WIDE = Path(np.column_stack([1.4 * np.cos(_t), np.sin(_t)]))


def scale_norm(labels):
    vals = np.array([float(s) for s in labels])
    order = np.argsort(vals)
    asc = vals[order]
    edges = np.concatenate([[asc[0] - 1e6], (asc[1:] + asc[:-1]) / 2, [asc[-1] + 1e6]])
    cmap = ListedColormap([SCALE_COLORS[i] for i in order])
    return cmap, BoundaryNorm(edges, cmap.N)


# background zones
bg = fig.add_axes(rect(X0, BAND_TOP, X1, BAND_BOT), zorder=0)
bg.set_xlim(0, DMAX)
bg.set_ylim(0, 1)
bg.axis('off')
for top, base, col in zip(ZONE_TOP, ZONE_BASE, ZONE_COLOR):
    bg.axvspan(top, base, color=col, lw=0)
for b in ZONE_BASE[:-1]:
    bg.axvline(b, color='#111111', lw=1.1)


def make_track(ytop, ybot, ytick, vmin, vmax, second=None):
    """One log track; `second` gives the upper limit of an optional second scale."""
    frac = (ybot - ytop) / (ybot - ytick)
    sub = None
    if second is not None:
        sub = fig.add_axes(rect(X0, ytop, X1, ybot), zorder=1.5)
        sub.set_xlim(0, DMAX)
        sub.set_ylim(0, second * frac)
        sub.axis('off')
    ax = fig.add_axes(rect(X0, ytop, X1, ybot), zorder=2)
    ax.patch.set_alpha(0)
    ax.set_xlim(0, DMAX)
    ax.set_ylim(vmin, vmin + (vmax - vmin) * frac)
    for s in ('top', 'left'):
        ax.spines[s].set_visible(False)
    ax.spines['bottom'].set_linewidth(2.4)
    ax.spines['right'].set_linewidth(2.4)
    ax.spines['right'].set_bounds(vmin, vmax)
    ax.xaxis.set_major_locator(MultipleLocator(50))
    ax.xaxis.set_minor_locator(MultipleLocator(10))
    ax.tick_params(axis='x', which='major', direction='out', length=6, width=1.5, labelbottom=False)
    ax.tick_params(axis='x', which='minor', direction='out', length=3, width=1.5)
    ax.yaxis.tick_right()
    ax.yaxis.set_major_locator(FixedLocator([vmin, vmax]))
    q = (vmax - vmin) / 4
    ax.yaxis.set_minor_locator(FixedLocator([vmin + q, vmin + 2 * q, vmin + 3 * q]))
    ax.tick_params(axis='y', which='major', direction='out', length=9, width=1.8, labelright=False)
    ax.tick_params(axis='y', which='minor', direction='out', length=5.5, width=1.8)
    return ax, sub


def dots(ax, pts, color, s=60, marker=DOT, zorder=3):
    d, v = np.array(pts, dtype=float).T
    ax.scatter(d, v, s=s, c=color, marker=marker, linewidths=0, zorder=zorder)


def cdots(ax, pts, labels, s=60):
    d, v, w = np.array(pts, dtype=float).T
    cmap, norm = scale_norm(labels)
    ax.scatter(d, v, s=s, c=w, cmap=cmap, norm=norm, marker=DOT, linewidths=0, zorder=3)


def end_labels(ybot, ytick, lo, hi, x=1137):
    ftext(x, ybot, lo, rotation=90, ha='left', va='bottom', fontsize=10)
    ftext(x, ytick, hi, rotation=90, ha='left', va='top', fontsize=10)


def colour_scale(y0, y1, labels, left, right, title, title_y, left_fs=15, num_fs=12):
    ax = fig.add_axes(rect(50, y0, 1095, y1), zorder=4)
    ax.imshow(np.arange(16)[None, :], cmap=ListedColormap(SCALE_COLORS), aspect='auto',
              extent=(0, 16, 0, 1), interpolation='nearest')
    ax.set_xlim(0, 16)
    ax.set_ylim(0, 1)
    ax.axis('off')
    for i, lab in enumerate(labels):
        ax.text(i + 0.5, 0.5, lab, rotation=90, ha='center', va='center', fontsize=num_fs,
                color='white' if i in (0, 1, 14, 15) else 'black')
    yc = (y0 + y1) / 2
    ftext(36, yc, left, rotation=90, ha='center', va='center', fontsize=left_fs, color='#3a3a3a')
    ftext(1108, yc, right, rotation=90, ha='center', va='center', fontsize=15, color='#3a3a3a')
    ftext(532, title_y, title, rotation=180, ha='center', va='center', fontsize=15, color='#3a3a3a')


def box_label(x0, y0, x1, y1, fc, s, color, fs=14):
    ax = fig.add_axes(rect(x0, y0, x1, y1), zorder=5)
    ax.set_facecolor(fc)
    ax.set_xticks([])
    ax.set_yticks([])
    for sp in ax.spines.values():
        sp.set_visible(False)
    ax.text(0.5, 0.5, s, rotation=90, ha='center', va='center', fontsize=fs, color=color,
            transform=ax.transAxes)


# ---- SiO2
ax, _ = make_track(57, 180, 82, 0, 95.442)
dots(ax, SIO2, 'black')
end_labels(180, 82, '0', '95.442')
ftext(1178, 131, 'Wt% SiO2\nXRF', rotation=90, ha='center', va='center', multialignment='center')

# ---- CaO
ax, _ = make_track(180, 296, 198, 0, 24.836)
dots(ax, CAO, '#3A53A4')
end_labels(296, 198, '0', '24.836')
ftext(1178, 247, 'Wt% CaO\nXRF', rotation=90, ha='center', va='center', multialignment='center')

# ---- MgO
ax, _ = make_track(296, 413, 317, 0, 25.634)
dots(ax, MGO, '#6BBE45')
end_labels(413, 317, '0', '25.634')
ftext(1178, 365, 'Wt% MgO\nXRF', rotation=90, ha='center', va='center', multialignment='center')

# ---- Al2O3
ax, _ = make_track(413, 530, 433, 0, 44.602)
dots(ax, AL2O3, '#666666')
end_labels(530, 433, '0', '44.602')
ftext(1178, 481, 'Wt% Al2O3\nXRF', rotation=90, ha='center', va='center', multialignment='center')

# ---- Fe2O3 and FeO
ax, axf = make_track(530, 650, 550, 0, 100, second=30)
dots(axf, FEO, '#F2E60E')
dots(ax, FE2O3, '#EC2227')
ftext(1137, 650, '0', rotation=90, ha='left', va='bottom', fontsize=10)
ftext(1137, 598, 'Fe2O3', rotation=90, ha='left', va='center', fontsize=10)
ftext(1137, 550, '100', rotation=90, ha='left', va='top', fontsize=10)
ftext(1152, 650, '0', rotation=90, ha='left', va='bottom', fontsize=10)
ftext(1152, 600, 'FeO', rotation=90, ha='left', va='center', fontsize=10)
ftext(1152, 550, '30', rotation=90, ha='left', va='top', fontsize=10)
ftext(1203, 600, 'Wt% Fe2O3\nand % FeO\nXRF', rotation=90, ha='center', va='center', multialignment='center')
box_label(1046, 537, 1079, 594, '#EC2227', 'Fe2O3', 'black')
box_label(1079, 537, 1111, 594, '#F2E60E', 'FeO', 'black')

# ---- magnetic susceptibility
ax, _ = make_track(650, 770, 673, -9.353, 944.683)
dots(ax, MAGSUS, '#262A6E', s=78, marker=DOT_WIDE)
end_labels(770, 673, '-9.353', '944.683')
ftext(1182, 724, 'Magnetic\nsusceptibility', rotation=90, ha='center', va='center', multialignment='center')

# ---- carbonate
ax, _ = make_track(770, 923, 826, 0, 0.309)
cdots(ax, CARB, CA_MG)
end_labels(923, 826, '0', '0.309')
ftext(1193, 874, 'Carbonate\nabundance\n2330D', rotation=90, ha='center', va='center', multialignment='center')
colour_scale(786, 822, CA_MG, 'Ca', 'Mg', 'Composition (2330Wvl)', 836)

# ---- talc
ax, _ = make_track(923, 1048, 952, 0, 0.506)
dots(ax, TALC, '#6BBE45')
end_labels(1048, 952, '0', '0.506')
ftext(1193, 1000, 'Talc\nabundance\n2310D', rotation=90, ha='center', va='center', multialignment='center')

# ---- clorite
ax, _ = make_track(1048, 1202, 1105, 0, 0.388)
cdots(ax, CLOR, FE_MG)
end_labels(1202, 1105, '0', '0.388')
ftext(1193, 1153, 'Clorite\nabundance\n2335D', rotation=90, ha='center', va='center', multialignment='center')
colour_scale(1068, 1103, FE_MG, 'Fe', 'Mg', 'Composition (2335Wvl)', 1113)

# ---- kaolinite
ax, _ = make_track(1202, 1362, 1265, 0, 0.338)
cdots(ax, KAOL, CRYST)
end_labels(1362, 1265, '0', '0.338')
ftext(1193, 1313, 'Kaolinite\nabundance\n2200DK', rotation=90, ha='center', va='center', multialignment='center')
colour_scale(1220, 1263, CRYST, 'High', 'Low', 'Crystallinity (2170SL)', 1277, num_fs=11.5)

# ---- gibbsite
ax, _ = make_track(1362, 1485, 1389, 0, 0.312)
dots(ax, GIBB, '#666666')
end_labels(1485, 1389, '0', '0.312')
ftext(1193, 1437, 'Gibbsite\nabundance\n2260D', rotation=90, ha='center', va='center', multialignment='center')

# ---- Fe-(oxyhydr-)oxide and Fe2+
ax, axg = make_track(1485, 1640, 1541, 0, 4.65, second=30.098)
dots(axg, FE2, '#666666')
cdots(ax, FEOX, GOE_HEM)
ftext(1137, 1640, '0', rotation=90, ha='left', va='bottom', fontsize=10)
ftext(1137, 1589, '900D/N1650R', rotation=90, ha='left', va='center', fontsize=10)
ftext(1137, 1539, '4.65', rotation=90, ha='left', va='bottom', fontsize=10)
ftext(1152, 1640, '0', rotation=90, ha='left', va='bottom', fontsize=10)
ftext(1152, 1588, '1500SL', rotation=90, ha='left', va='center', fontsize=10)
ftext(1152, 1539, '30.098', rotation=90, ha='left', va='bottom', fontsize=10)
ftext(1222, 1581, 'Fe-(oxyhydr-)oxide\nabundance\n900D/N1650R and\nFe$^{+2}$  abundance  1500SL',
      rotation=90, ha='center', va='center', multialignment='center')
colour_scale(1507, 1538, GOE_HEM, 'Goe', 'Hem', 'Hematite-Goethite distribution (900Wvl)', 1551, left_fs=13.5)
box_label(1066, 1543, 1099, 1580, '#6D6E70', 'Fe$^{+2}$', 'white', fs=15)

# ---- manual logging column
axm = fig.add_axes(rect(X0, 13, X1, 57), zorder=3)
axm.set_xlim(0, DMAX)
axm.set_ylim(0, 1)
axm.axis('off')
for t, b, u, lab in zip(MAN_TOP, MAN_BASE, MAN_UNIT, MAN_LABEL):
    axm.add_patch(Rectangle((t, 0), b - t, 1, fc=UNIT_COLORS[u], ec='black', lw=2, clip_on=False))
    if u == 'None':
        axm.plot([t, b], [0, 1], color='#222222', lw=1.8, clip_on=False)
        axm.plot([t, b], [1, 0], color='#222222', lw=1.8, clip_on=False)
    if lab:
        axm.text((t + b) / 2, 0.5, lab, rotation=90, ha='center', va='center', fontsize=13,
                 color='white' if u == 'OC' else '#2b2b2b')
axm.add_patch(Rectangle((0, 0), DMAX, 1, fc='none', ec='black', lw=2.8, clip_on=False))
ftext(1155, 36, 'Manual\nlogging', rotation=90, ha='center', va='center', multialignment='center')

# ---- ASD logging column (drawn as a core box)
axa = fig.add_axes(rect(X0, 1655, X1, 1720), zorder=3)
axa.set_xlim(0, DMAX)
axa.set_ylim(1720, 1655)
axa.axis('off')
off = 8 * M_PER_PX
axa.add_patch(Ellipse((0, 1688.5), 17 * M_PER_PX, 55, fc=UNIT_COLORS['CC'], ec='#222222', lw=2,
                      clip_on=False))
for t, b, u in zip(ASD_TOP, ASD_BASE, ASD_UNIT):
    axa.add_patch(Polygon([(t, 1707), (b, 1707), (b - off, 1716), (t - off, 1716)], closed=True,
                          fc=UNIT_COLORS[u], ec='#333333', lw=1.5, clip_on=False))
for t, b, u in zip(ASD_TOP, ASD_BASE, ASD_UNIT):
    axa.add_patch(Rectangle((t, 1661), b - t, 46, fc=UNIT_COLORS[u], ec='#222222', lw=2, clip_on=False))
    if u == 'None':
        axa.plot([t, b], [1661, 1707], color='#222222', lw=1.8, clip_on=False)
        axa.plot([t, b], [1707, 1661], color='#222222', lw=1.8, clip_on=False)
    elif b - t > 10:
        fs = 11 if u == 'JP(HG)' else 12.5
        axa.text((t + b) / 2, 1684, u, rotation=90, ha='center', va='center', fontsize=fs,
                 color='white' if u in LIGHT_TEXT_UNITS else '#2b2b2b')
axa.add_patch(Rectangle((0, 1661), DMAX, 46, fc='none', ec='#222222', lw=2.6, clip_on=False))
ftext(1157, 1689, 'ASD\nlogging', rotation=90, ha='center', va='center', multialignment='center')

# ---- depth axis
axd = fig.add_axes(rect(X0, 1716, X1, 1724), zorder=2)
axd.patch.set_alpha(0)
axd.set_xlim(0, DMAX)
axd.set_yticks([])
for s in ('top', 'left', 'right'):
    axd.spines[s].set_visible(False)
axd.spines['bottom'].set_linewidth(2.4)
major = list(range(0, 551, 50)) + [560]
axd.set_xticks(major)
axd.set_xticklabels([str(m) if (m % 100 == 0 or m == 560) else '' for m in major],
                    rotation=180, fontsize=13)
axd.xaxis.set_minor_locator(MultipleLocator(10))
axd.tick_params(axis='x', which='major', direction='out', length=6, width=1.5, pad=3)
axd.tick_params(axis='x', which='minor', direction='out', length=3, width=1.5)
ftext(515, 1759, 'Depth (m)', rotation=180, ha='center', va='center', fontsize=15)

fig.savefig('out.png', dpi=100)
